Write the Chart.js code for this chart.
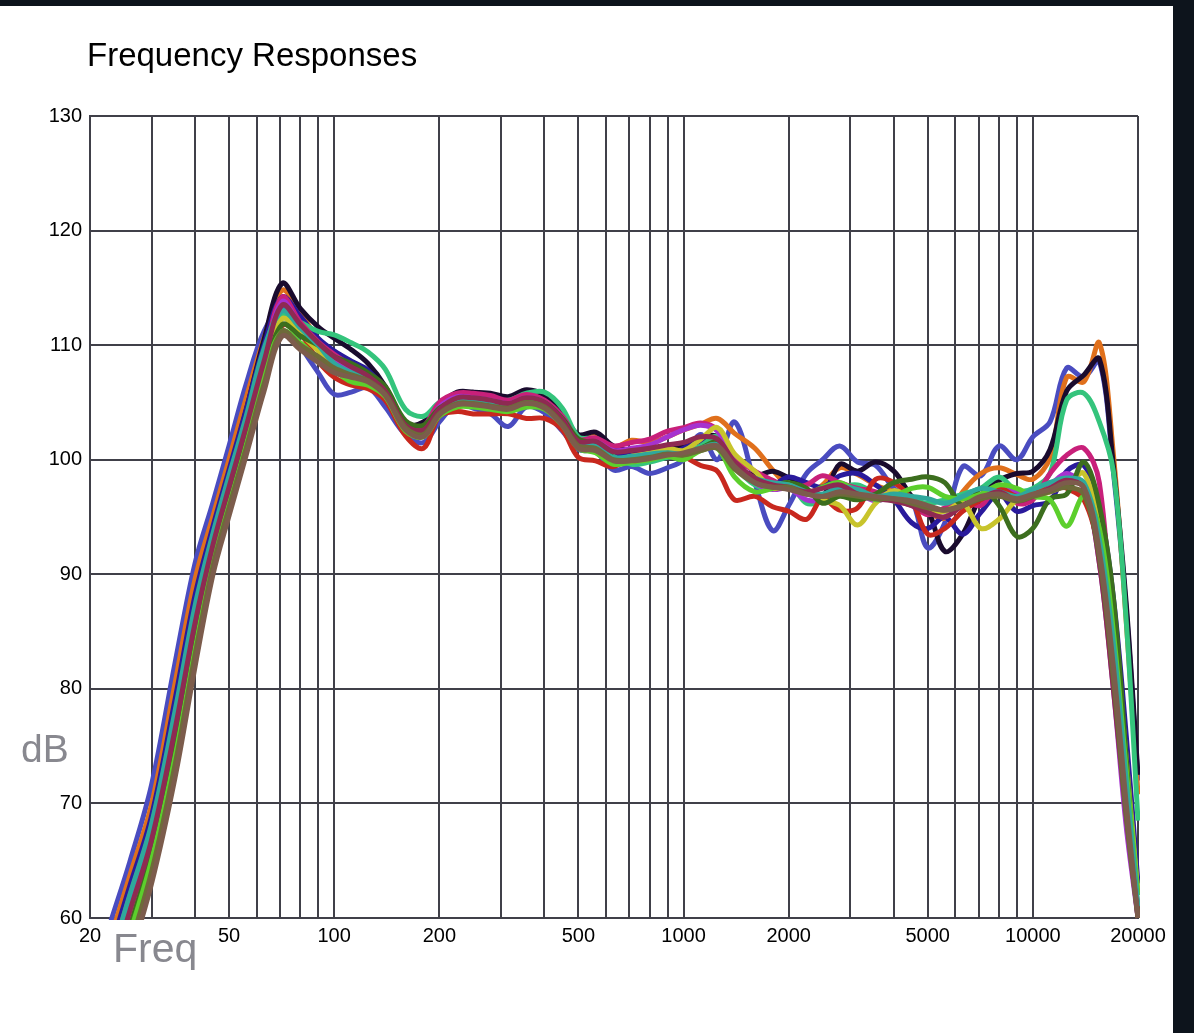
<!DOCTYPE html>
<html>
<head>
<meta charset="utf-8">
<title>Frequency Responses</title>
<script src="https://cdn.jsdelivr.net/npm/chart.js@4/dist/chart.umd.min.js"></script>
<style>
    html, body { margin: 0; padding: 0; }
    body { width: 1194px; height: 1033px; background: #0d141c; position: relative; overflow: hidden;
           font-family: "Liberation Sans", Arial, sans-serif; }
    #sheet { position: absolute; left: 0; top: 6px; width: 1173px; height: 1027px; background: #ffffff; }
    #chart { position: absolute; left: 0; top: 0; }
    .lbl { position: absolute; white-space: nowrap; }
    #title { left: 87px; top: 38px; font-size: 33px; line-height: 33px; color: #000; }
    #ylab { left: 21px; top: 729px; font-size: 39px; line-height: 39px; color: #88888f; }
    #xlab { left: 113px; top: 928px; font-size: 41px; line-height: 41px; color: #88888f; }
</style>
</head>
<body>
<div id="sheet"></div>
<canvas id="chart" width="1194" height="1033"></canvas>
<div class="lbl" id="title">Frequency Responses</div>
<div class="lbl" id="ylab">dB</div>
<div class="lbl" id="xlab">Freq</div>

<script>
/* ------------------------------- Data -------------------------------*/

var freqHz = [20, 23, 26, 30, 35, 40, 45, 50, 56, 63,
    71, 80, 90, 100, 112, 125, 140, 160, 180, 200,
    225, 250, 280, 315, 355, 400, 450, 500, 560, 630,
    710, 800, 900, 1000, 1120, 1250, 1400, 1600, 1800, 2000,
    2250, 2500, 2800, 3150, 3550, 4000, 4500, 5000, 5600, 6300,
    7100, 8000, 9000, 10000, 11200, 12500, 14000, 15500, 17000, 18500, 20000];

var gridFreqs = [20, 30, 40, 50, 60, 70, 80, 90, 100, 200, 300, 400, 500, 600, 700, 800, 900,
    1000, 2000, 3000, 4000, 5000, 6000, 7000, 8000, 9000, 10000, 20000];
var labelFreqs = [20, 50, 100, 200, 500, 1000, 2000, 5000, 10000, 20000];

var dbBrown = [46.0, 51.5, 56.5, 63.0, 72.2, 82.0, 90.0, 95.1, 100.4, 106.0,
    110.8, 109.6, 108.5, 107.6, 107.2, 106.8, 105.6, 102.6, 102.0, 103.9,
    104.8, 104.8, 104.6, 104.4, 104.9, 104.5, 103.0, 101.0, 100.8, 99.9,
    99.9, 100.1, 100.4, 100.6, 101.0, 101.2, 99.4, 98.0, 97.6, 97.4,
    97.0, 96.8, 97.2, 97.0, 96.8, 96.6, 96.4, 96.0, 95.6, 96.0,
    96.8, 97.0, 96.6, 97.0, 97.4, 98.0, 97.6, 92.0, 82.0, 70.0, 60.0];

var dbOlive = [47.0, 52.5, 57.5, 64.0, 73.3, 83.0, 90.7, 95.8, 101.0, 106.6,
    111.2, 110.0, 109.0, 108.0, 107.4, 106.9, 105.7, 102.8, 102.2, 104.0,
    104.9, 104.9, 104.7, 104.5, 105.0, 104.6, 103.1, 101.2, 101.0, 100.0,
    100.0, 100.2, 100.5, 100.4, 100.8, 101.0, 99.2, 98.0, 97.6, 97.6,
    97.0, 96.8, 97.0, 96.8, 96.6, 96.6, 96.2, 95.8, 95.6, 96.0,
    96.6, 96.8, 96.4, 96.8, 97.2, 97.6, 97.0, 91.5, 81.0, 69.0, 60.0];

var dbMaroon = [49.5, 55.2, 60.6, 66.8, 76.4, 85.8, 92.6, 97.6, 102.9, 108.6,
    113.5, 111.8, 110.2, 109.0, 108.1, 107.3, 106.0, 103.0, 102.6, 104.4,
    105.4, 105.4, 105.2, 104.9, 105.4, 105.0, 103.5, 101.6, 101.6, 100.7,
    100.8, 101.0, 101.3, 101.5, 102.0, 101.8, 99.8, 98.4, 97.8, 97.6,
    97.2, 97.5, 97.8, 97.0, 96.6, 96.4, 96.0, 95.4, 95.0, 96.0,
    96.6, 97.2, 96.4, 96.8, 97.5, 98.2, 97.5, 91.0, 80.0, 69.0, 60.0];

var dbTeal = [50.8, 56.6, 62.0, 68.2, 78.0, 87.3, 93.6, 98.6, 103.8, 109.7,
    113.0, 111.5, 110.0, 108.4, 107.6, 107.1, 105.8, 102.8, 102.4, 104.2,
    105.2, 105.2, 105.0, 104.6, 105.2, 104.8, 103.3, 101.4, 101.2, 100.2,
    100.3, 100.5, 100.6, 100.5, 101.0, 101.3, 99.6, 98.4, 98.0, 97.8,
    97.2, 97.0, 97.6, 97.4, 96.8, 97.0, 96.8, 96.6, 96.2, 96.8,
    97.5, 97.2, 96.8, 97.4, 98.0, 98.4, 98.0, 93.0, 84.0, 72.0, 61.0];

var dbLime = [47.6, 53.2, 58.6, 65.0, 74.0, 83.5, 91.1, 96.1, 101.3, 107.4,
    111.2, 110.2, 108.8, 107.8, 106.8, 106.5, 105.5, 102.5, 102.0, 103.8,
    104.6, 104.6, 104.4, 104.2, 104.6, 104.4, 103.0, 101.0, 100.6, 99.6,
    99.8, 100.0, 100.3, 100.0, 100.8, 101.0, 98.5, 97.2, 97.5, 97.8,
    97.0, 97.6, 98.0, 97.2, 96.5, 96.8, 97.5, 97.6, 96.8, 96.6,
    97.0, 97.8, 97.5, 96.8, 96.5, 94.2, 96.8, 94.0, 85.0, 73.0, 62.0];

var dbDarkGreen = [48.0, 53.8, 59.2, 65.6, 74.6, 84.0, 91.4, 96.4, 101.6, 107.4,
    111.8, 110.8, 110.0, 109.0, 108.4, 107.6, 106.4, 103.4, 103.0, 104.5,
    105.2, 105.2, 105.0, 104.8, 105.2, 105.0, 103.6, 101.8, 101.4, 100.2,
    100.0, 100.2, 100.4, 100.3, 101.0, 101.5, 99.5, 98.2, 97.8, 98.0,
    97.5, 96.2, 96.8, 96.5, 97.0, 98.0, 98.3, 98.5, 98.0, 96.0,
    97.5, 96.0, 93.3, 94.0, 96.6, 97.0, 99.8, 96.0, 88.0, 74.0, 60.0];

var dbYellow = [48.6, 54.4, 59.8, 66.1, 75.2, 84.6, 91.7, 96.7, 101.9, 107.8,
    112.3, 111.0, 109.5, 108.2, 107.1, 106.8, 105.6, 102.6, 102.3, 104.0,
    105.0, 105.0, 104.8, 104.6, 105.0, 104.8, 103.2, 101.2, 101.0, 100.0,
    100.3, 100.6, 101.0, 100.8, 101.8, 102.8, 100.5, 99.0, 97.5, 97.8,
    97.3, 96.5, 96.0, 94.3, 96.2, 97.3, 96.5, 95.5, 95.5, 96.2,
    94.0, 94.8, 96.5, 96.8, 97.2, 97.8, 98.8, 94.0, 86.0, 74.0, 62.0];

var dbRed = [49.2, 55.0, 60.4, 66.6, 75.7, 85.0, 92.0, 97.0, 102.2, 108.0,
    111.7, 111.0, 108.6, 107.2, 106.5, 106.2, 105.2, 102.1, 101.0, 103.8,
    104.2, 104.0, 104.0, 104.0, 103.6, 103.6, 102.6, 100.2, 99.9, 99.4,
    100.3, 100.5, 100.8, 100.3, 99.5, 99.0, 96.5, 96.8, 95.9, 95.5,
    94.8, 96.6, 95.6, 95.8, 98.3, 98.0, 96.5, 93.5, 94.0, 95.5,
    96.5, 97.5, 96.8, 97.0, 98.0, 97.5, 96.5, 92.0, 84.0, 72.0, 62.0];

var dbPurple = [50.0, 55.9, 61.2, 67.4, 76.6, 85.9, 92.7, 97.6, 103.0, 108.6,
    113.8, 111.6, 109.6, 108.5, 107.8, 107.1, 105.6, 102.8, 102.6, 104.6,
    105.5, 105.4, 105.2, 104.9, 105.4, 105.0, 103.6, 101.6, 101.6, 100.8,
    101.0, 101.3, 102.0, 102.6, 103.0, 102.5, 99.8, 98.0, 97.4, 97.5,
    96.5, 96.5, 97.2, 97.0, 96.4, 96.8, 96.5, 95.5, 95.0, 96.2,
    97.0, 97.6, 97.2, 97.0, 97.8, 98.8, 97.5, 91.0, 80.0, 68.0, 60.0];

var dbPink = [50.7, 56.6, 61.9, 68.0, 77.6, 86.9, 93.3, 98.3, 103.5, 109.0,
    114.2, 112.0, 110.3, 109.2, 108.2, 107.3, 105.9, 103.0, 102.9, 105.0,
    105.8, 105.8, 105.6, 105.2, 105.7, 105.2, 103.8, 101.8, 101.9, 101.2,
    101.5, 101.8, 102.5, 102.8, 103.2, 102.6, 100.2, 99.0, 98.2, 97.5,
    97.8, 98.6, 98.0, 97.5, 97.2, 96.5, 96.0, 95.2, 95.8, 96.4,
    96.0, 97.8, 96.2, 96.5, 98.8, 100.4, 101.0, 98.0, 84.0, 72.0, 60.5];

var dbMint = [49.6, 55.5, 60.9, 67.0, 76.2, 85.4, 92.4, 97.3, 102.6, 108.5,
    112.6, 112.0, 111.2, 110.9, 110.2, 109.4, 107.9, 104.4, 103.8, 105.0,
    105.6, 105.5, 105.3, 105.2, 105.8, 105.9, 104.5, 102.0, 101.8, 100.3,
    99.6, 99.8, 100.2, 100.5, 101.2, 102.0, 99.5, 97.8, 97.5, 98.0,
    96.2, 96.5, 97.5, 97.8, 97.0, 96.4, 96.5, 96.2, 96.5, 97.0,
    97.5, 98.5, 97.3, 97.5, 98.8, 105.2, 105.8, 103.3, 99.0, 86.0, 68.5];

var dbIndigo = [51.6, 57.5, 62.8, 68.9, 79.0, 88.2, 94.2, 99.1, 104.4, 110.0,
    114.2, 112.5, 110.6, 109.5, 108.6, 107.8, 106.0, 102.8, 102.5, 104.2,
    105.3, 105.2, 105.0, 104.6, 105.3, 105.0, 103.4, 101.6, 101.5, 100.4,
    100.4, 100.6, 100.4, 101.0, 101.6, 101.8, 100.2, 98.0, 97.8, 98.5,
    98.0, 97.6, 98.6, 98.8, 97.8, 96.5, 94.5, 94.0, 95.0, 93.5,
    95.4, 97.0, 95.5, 96.0, 96.4, 99.0, 99.5, 96.0, 88.0, 76.0, 63.0];

var dbBlack = [51.3, 57.2, 62.5, 68.6, 78.6, 87.8, 93.9, 98.8, 104.3, 110.5,
    115.4, 113.2, 111.6, 110.6, 109.6, 108.4, 106.4, 103.1, 103.3, 104.8,
    105.9, 105.9, 105.8, 105.5, 106.1, 105.6, 104.0, 102.2, 102.4, 101.2,
    100.8, 101.0, 101.0, 101.2, 101.9, 102.0, 99.6, 98.6, 99.0, 98.4,
    97.4, 96.8, 99.6, 99.0, 99.8, 99.0, 96.8, 95.6, 92.0, 93.5,
    96.8, 98.2, 98.8, 99.0, 100.9, 106.0, 107.4, 108.8, 99.5, 87.5, 72.5];

var dbOrange = [52.5, 58.4, 63.7, 69.9, 80.4, 89.6, 95.1, 100.0, 105.4, 110.6,
    114.8, 112.8, 110.5, 108.8, 107.4, 106.9, 105.8, 103.2, 102.6, 104.3,
    105.4, 105.6, 105.4, 105.3, 105.8, 105.6, 104.0, 102.1, 102.3, 101.1,
    101.7, 101.5, 102.0, 102.6, 103.1, 103.6, 102.3, 101.0, 99.1, 97.7,
    97.0, 97.8, 99.3, 98.7, 97.8, 97.2, 96.8, 95.5, 94.9, 97.2,
    98.8, 99.3, 98.7, 98.3, 100.2, 107.2, 106.8, 110.2, 100.5, 86.0, 70.8];

var dbBlue = [53.9, 59.8, 64.9, 71.6, 82.2, 91.0, 96.3, 101.2, 106.6, 111.2,
    113.3, 110.0, 107.6, 105.7, 105.9, 106.3, 104.6, 102.2, 101.5, 103.3,
    104.9, 104.5, 104.0, 102.9, 104.6, 104.1, 102.5, 100.9, 100.7, 99.1,
    99.4, 98.8, 99.3, 100.0, 102.2, 100.0, 103.3, 98.0, 93.8, 96.0,
    98.8, 100.0, 101.2, 99.8, 99.5, 97.5, 96.5, 92.3, 94.5, 99.4,
    98.6, 101.2, 100.0, 102.0, 103.3, 108.0, 107.2, 108.6, 99.0, 87.0, 72.0];

/* ------------------------------- Chart -------------------------------*/

var fontFamily = '"Liberation Sans", Arial, sans-serif';
var gridColor = '#404049';

function makePoints(values) {                       // пари (частота, рівень) для лінійного графіка
    var points = [];
    for (let i = 0; i < freqHz.length; i++) {
        points.push({ x: freqHz[i], y: values[i] });
    }
    return points;
}

function makeDataset(values, color) {
    return {
        data: makePoints(values),
        borderColor: color,
        borderWidth: 5,
        pointRadius: 0,
        tension: 0.35,
        fill: false,
        clip: 2
    };
}

var datasets = [                                    // порядок = порядок малювання (останній зверху)
    makeDataset(dbBrown, '#7c5c4c'),
    makeDataset(dbOlive, '#6e6a3a'),
    makeDataset(dbMaroon, '#8e2a52'),
    makeDataset(dbTeal, '#2fa89c'),
    makeDataset(dbLime, '#5ccf2c'),
    makeDataset(dbDarkGreen, '#3c6e1e'),
    makeDataset(dbYellow, '#c8c42c'),
    makeDataset(dbRed, '#c8281e'),
    makeDataset(dbPurple, '#a632cf'),
    makeDataset(dbPink, '#c8207a'),
    makeDataset(dbMint, '#34c47c'),
    makeDataset(dbIndigo, '#2a1a9c'),
    makeDataset(dbBlack, '#1a0b2e'),
    makeDataset(dbOrange, '#e0701c'),
    makeDataset(dbBlue, '#4a4cc0')
];

var ctx = document.getElementById('chart').getContext('2d');
new Chart(ctx, {
    type: 'line',
    data: { datasets: datasets },
    options: {
        responsive: false,
        animation: false,
        devicePixelRatio: 1,
        layout: { padding: { top: 116, right: 56, bottom: 0, left: 0 } },
        plugins: {
            legend: { display: false },
            tooltip: { enabled: false }
        },
        scales: {
            x: {
                type: 'logarithmic',
                min: 20,
                max: 20000,
                afterBuildTicks: function (scale) {
                    scale.ticks = gridFreqs.map(function (v) { return { value: v }; });
                },
                afterFit: function (scale) { scale.height = 115; },
                grid: { color: gridColor, lineWidth: 2, drawTicks: false },
                border: { color: gridColor, width: 2 },
                ticks: {
                    autoSkip: false,
                    maxRotation: 0,
                    padding: 6,
                    color: '#000',
                    font: { family: fontFamily, size: 20 },
                    callback: function (value) {
                        return labelFreqs.indexOf(value) >= 0 ? String(value) : '';
                    }
                }
            },
            y: {
                type: 'linear',
                min: 60,
                max: 130,
                afterFit: function (scale) { scale.width = 90; },
                grid: { color: gridColor, lineWidth: 2, drawTicks: false },
                border: { color: gridColor, width: 2 },
                ticks: {
                    stepSize: 10,
                    padding: 8,
                    color: '#000',
                    font: { family: fontFamily, size: 20 }
                }
            }
        }
    }
});
</script>
</body>
</html>
